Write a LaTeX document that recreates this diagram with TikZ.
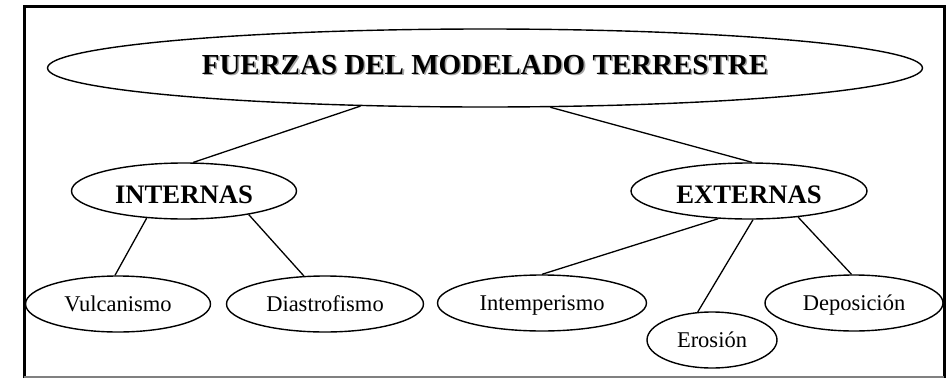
\documentclass[tikz,border=0pt]{standalone}
\usepackage{fontspec}
\setmainfont{Liberation Serif}
\usepackage{tikz}
\usetikzlibrary{shapes}
\tikzstyle{topic} = [draw, ellipse, line width=1.4pt, inner sep=0pt, text depth=0pt]
\tikzstyle{titlebox} = [topic, font=\fontsize{29}{34}\selectfont\bfseries, text height=12pt]
\tikzstyle{groupbox} = [topic, font=\fontsize{26.7}{32}\selectfont\bfseries, minimum height=56pt, text height=24pt]
\tikzstyle{leafbox} = [topic, font=\fontsize{22.5}{27}\selectfont, minimum height=56pt, text height=15pt]
\tikzstyle{link} = [draw, line width=1.3pt]
\newcommand{\shadowed}[1]{\makebox[0pt][l]{\hspace{1.6pt}\raisebox{-1.6pt}{\color{gray!70}#1}}#1}

\begin{document}
\begin{tikzpicture}[x=1pt, y=-1pt]
\useasboundingbox (0, 0) rectangle (951, 378);
% frame
\draw [line width=3pt] (24, 378) -- (24, 6.5) -- (944, 6.5) -- (944, 378);
\draw [gray, line width=1.5pt] (24, 377) -- (944, 377);

\node [titlebox, minimum width=875pt, minimum height=78pt] at (485, 68) (fuerzas) {\shadowed{FUERZAS DEL MODELADO TERRESTRE}};

\node [groupbox, minimum width=225pt] at (184, 191) (internas) {INTERNAS};
\node [groupbox, minimum width=236pt] at (749, 191) (externas) {EXTERNAS};

\node [leafbox, minimum width=185pt] at (118, 304) (vulcanismo) {Vulcanismo};
\node [leafbox, minimum width=197pt] at (325, 304) (diastrofismo) {Diastrofismo};
\node [leafbox, minimum width=209pt] at (542, 303) (intemperismo) {Intemperismo};
\node [leafbox, minimum width=130pt] at (712, 340) (erosion) {Erosión};
\node [leafbox, minimum width=178pt] at (854, 303) (deposicion) {Deposición};

\path [link] (fuerzas.197) to (internas.72);
\path [link] (fuerzas.329) to (externas.84);

\path [link] (internas.216) to (vulcanismo.96);
\path [link] (internas.340) to (diastrofismo.127);

\path [link] (externas.222) to (intemperismo.90);
\path [link] (externas.278) to (erosion.117);
\path [link] (externas.332) to (deposicion.95);
\end{tikzpicture}
\end{document}
